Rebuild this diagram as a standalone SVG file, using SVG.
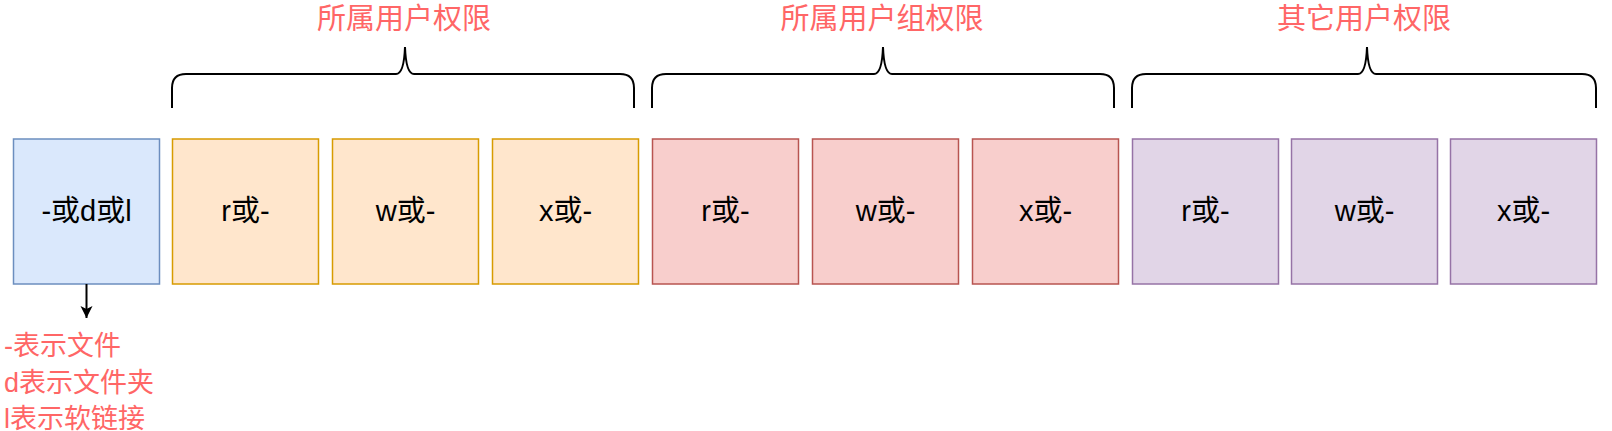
<svg xmlns="http://www.w3.org/2000/svg" width="1612" height="431" viewBox="0 0 1612 431">
<style>
text{font-family:"Liberation Sans","Noto Sans CJK SC",sans-serif;font-size:29px}
.l{text-anchor:middle;fill:#000}
.r{fill:#ff6666;font-size:27px}
.t{text-anchor:middle;fill:#ff6666}
.b rect{stroke-width:1.5}
.brace{fill:none;stroke:#000;stroke-width:2}
</style>
<defs><marker id="a" markerWidth="14" markerHeight="14" refX="12" refY="6" orient="auto" markerUnits="userSpaceOnUse"><path d="M0,0 L12,6 L0,12 L3,6 z" fill="#000"/></marker></defs>
<text class="t" x="404" y="29">所属用户权限</text>
<text class="t" x="882" y="29">所属用户组权限</text>
<text class="t" x="1364" y="29">其它用户权限</text>
<g class="b">
<g id="n0"><rect x="13.5" y="139" width="146" height="145" fill="#dae8fc" stroke="#6c8ebf"/><text class="l" x="86.5" y="221">-或d或l</text></g>
<g id="n1"><rect x="172.5" y="139" width="146" height="145" fill="#ffe6cc" stroke="#d79b00"/><text class="l" x="245.5" y="221">r或-</text></g>
<g id="n2"><rect x="332.5" y="139" width="146" height="145" fill="#ffe6cc" stroke="#d79b00"/><text class="l" x="405.5" y="221">w或-</text></g>
<g id="n3"><rect x="492.5" y="139" width="146" height="145" fill="#ffe6cc" stroke="#d79b00"/><text class="l" x="565.5" y="221">x或-</text></g>
<g id="n4"><rect x="652.5" y="139" width="146" height="145" fill="#f8cecc" stroke="#b85450"/><text class="l" x="725.5" y="221">r或-</text></g>
<g id="n5"><rect x="812.5" y="139" width="146" height="145" fill="#f8cecc" stroke="#b85450"/><text class="l" x="885.5" y="221">w或-</text></g>
<g id="n6"><rect x="972.5" y="139" width="146" height="145" fill="#f8cecc" stroke="#b85450"/><text class="l" x="1045.5" y="221">x或-</text></g>
<g id="n7"><rect x="1132.5" y="139" width="146" height="145" fill="#e1d5e7" stroke="#9673a6"/><text class="l" x="1205.5" y="221">r或-</text></g>
<g id="n8"><rect x="1291.5" y="139" width="146" height="145" fill="#e1d5e7" stroke="#9673a6"/><text class="l" x="1364.5" y="221">w或-</text></g>
<g id="n9"><rect x="1450.5" y="139" width="146" height="145" fill="#e1d5e7" stroke="#9673a6"/><text class="l" x="1523.5" y="221">x或-</text></g>
</g>
<g id="braces">
<path class="brace" d="M172,108 V88 Q172,74 186,74 H396 Q404,74 405,47 Q406,74 414,74 H620 Q634,74 634,88 V108"/>
<path class="brace" d="M652,108 V88 Q652,74 666,74 H874 Q882,74 883,47 Q884,74 892,74 H1100 Q1114,74 1114,88 V108"/>
<path class="brace" d="M1132,108 V88 Q1132,74 1146,74 H1358 Q1366,74 1367,47 Q1368,74 1376,74 H1582 Q1596,74 1596,88 V108"/>
</g>
<g id="connectors"><line x1="86.5" y1="284" x2="86.5" y2="318" stroke="#000" stroke-width="2" marker-end="url(#a)"/></g>
<g id="note">
<text class="r" x="4" y="355">-表示文件</text>
<text class="r" x="4" y="392">d表示文件夹</text>
<text class="r" x="4" y="428">l表示软链接</text>
</g>
</svg>
